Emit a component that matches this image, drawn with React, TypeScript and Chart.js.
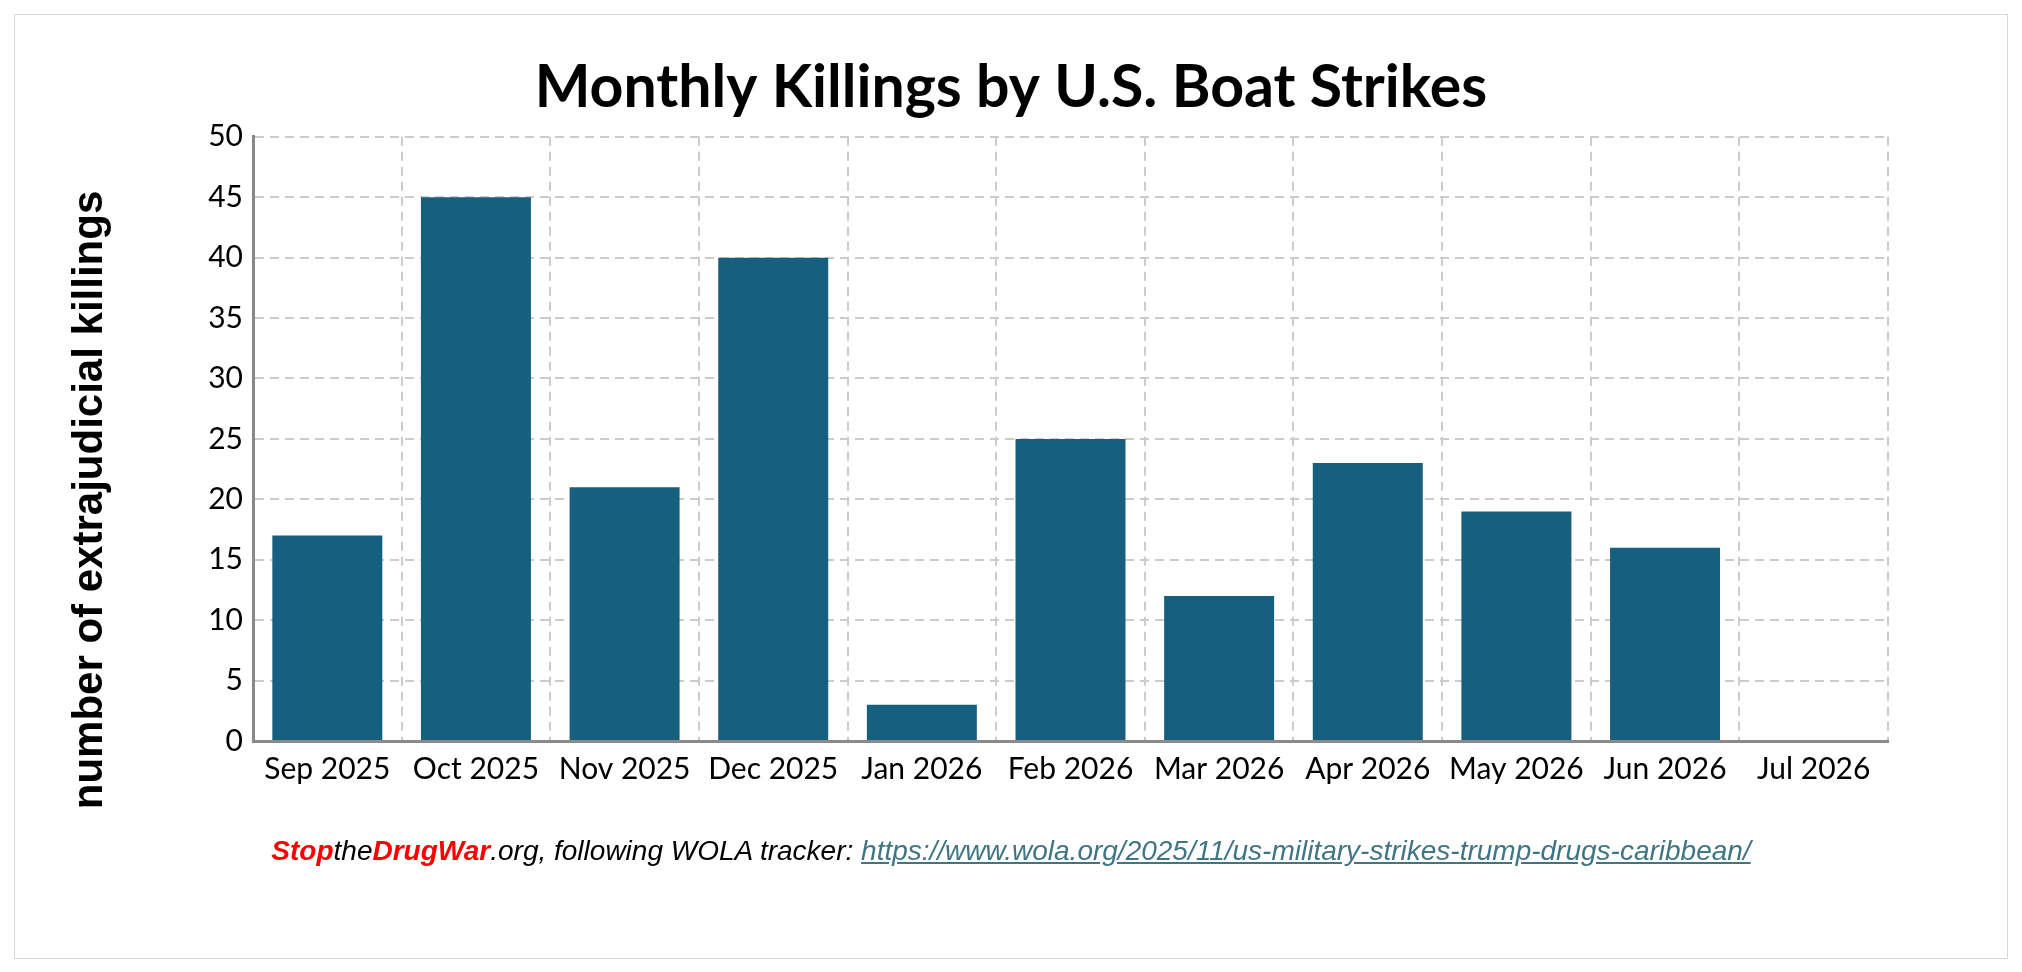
import React, { FC, useEffect, useRef } from 'react';
import Chart, { Plugin } from 'chart.js/auto';

const months = [
  'Sep 2025', 'Oct 2025', 'Nov 2025', 'Dec 2025', 'Jan 2026', 'Feb 2026',
  'Mar 2026', 'Apr 2026', 'May 2026', 'Jun 2026', 'Jul 2026',
];
const killings = [17, 45, 21, 40, 3, 25, 12, 23, 19, 16, 0];

const TITLE = 'Monthly Killings by U.S. Boat Strikes';
const Y_TITLE = 'number of extrajudicial killings';

const BAR_COLOR = '#175f7f';
const GRID_COLOR = '#cccccc';
const AXIS_COLOR = '#8a8a8a';

// the y-axis title in the original hangs lower than the axis centre, so draw it by hand
const yTitlePlugin: Plugin<'bar'> = {
  id: 'yTitle',
  afterDraw(chart) {
    const { ctx } = chart;
    ctx.save();
    ctx.translate(90, 500);
    ctx.rotate(-Math.PI / 2);
    ctx.font = 'bold 42px "Liberation Sans", Arial, sans-serif';
    ctx.fillStyle = '#000';
    ctx.textAlign = 'center';
    ctx.textBaseline = 'middle';
    ctx.fillText(Y_TITLE, 0, 0);
    ctx.restore();
  },
};

const BoatStrikesChart: FC = () => {
  const chartRef = useRef<HTMLCanvasElement | null>(null);
  const chartInstance = useRef<Chart | null>(null);

  useEffect(() => {
    if (!chartRef.current) return;
    if (chartInstance.current) chartInstance.current.destroy();

    const ctx = chartRef.current.getContext('2d');
    if (!ctx) return;

    chartInstance.current = new Chart(ctx, {
      type: 'bar',
      data: {
        labels: months,
        datasets: [
          {
            label: 'killings',
            data: killings,
            backgroundColor: BAR_COLOR,
            borderWidth: 0,
            barPercentage: 0.74,
            categoryPercentage: 1,
            yAxisID: 'y',
          },
        ],
      },
      options: {
        animation: false,
        responsive: true,
        maintainAspectRatio: false,
        layout: {
          padding: { top: 0, left: 0, right: 0, bottom: 83 },
        },
        plugins: {
          legend: { display: false },
          tooltip: { enabled: false },
          title: {
            display: true,
            text: TITLE,
            color: '#000',
            font: { family: 'Lato', size: 59, weight: 'bold', lineHeight: 1.2 },
            padding: { top: 53, bottom: 13 },
          },
        },
        scales: {
          x: {
            grid: { color: GRID_COLOR, lineWidth: 2, drawTicks: false },
            border: { display: true, color: AXIS_COLOR, width: 3, dash: [9, 6] },
            ticks: {
              color: '#000',
              font: { family: 'Lato', size: 30 },
              padding: 10,
              maxRotation: 0,
              autoSkip: false,
            },
          },
          y: {
            min: 0,
            max: 50,
            grid: { color: GRID_COLOR, lineWidth: 2, drawTicks: false },
            border: { display: true, color: AXIS_COLOR, width: 3, dash: [9, 6] },
            ticks: {
              stepSize: 5,
              color: '#000',
              font: { family: 'Lato', size: 30 },
              padding: 10,
            },
            afterFit: (scale: any) => {
              scale.width = 253;
            },
          },
          // empty right-hand spacer so the title stays centred on the page
          spacer: {
            type: 'linear',
            position: 'right',
            display: true,
            grid: { display: false },
            border: { display: false },
            ticks: { display: false },
            afterFit: (scale: any) => {
              scale.width = 134;
            },
          },
        },
      },
      plugins: [yTitlePlugin],
    });

    return () => {
      if (chartInstance.current) {
        chartInstance.current.destroy();
        chartInstance.current = null;
      }
    };
  }, []);

  return (
    <div style={{ position: 'absolute', left: 0, top: 0, width: '2022px', height: '880px' }}>
      <canvas ref={chartRef} />
    </div>
  );
};

const red = { color: '#ff0000', fontWeight: 'bold' as const };

const App: FC = () => (
  <div
    style={{
      position: 'fixed',
      left: 0,
      top: 0,
      width: '2022px',
      height: '972px',
      background: '#fff',
      overflow: 'hidden',
    }}
  >
    <div
      style={{
        position: 'absolute',
        left: '14px',
        top: '14px',
        width: '1992px',
        height: '943px',
        border: '1px solid #d9d9d9',
      }}
    />
    <BoatStrikesChart />
    <div
      style={{
        position: 'absolute',
        left: 0,
        top: '835px',
        width: '2022px',
        textAlign: 'center',
        fontFamily: '"Liberation Sans", Arial, sans-serif',
        fontStyle: 'italic',
        fontSize: '28px',
        lineHeight: '32px',
        color: '#000',
      }}
    >
      <span style={red}>Stop</span>the<span style={red}>DrugWar</span>.org, following WOLA tracker:{' '}
      <span style={{ color: '#3f7585', textDecoration: 'underline' }}>
        https://www.wola.org/2025/11/us-military-strikes-trump-drugs-caribbean/
      </span>
    </div>
  </div>
);

export default App;
